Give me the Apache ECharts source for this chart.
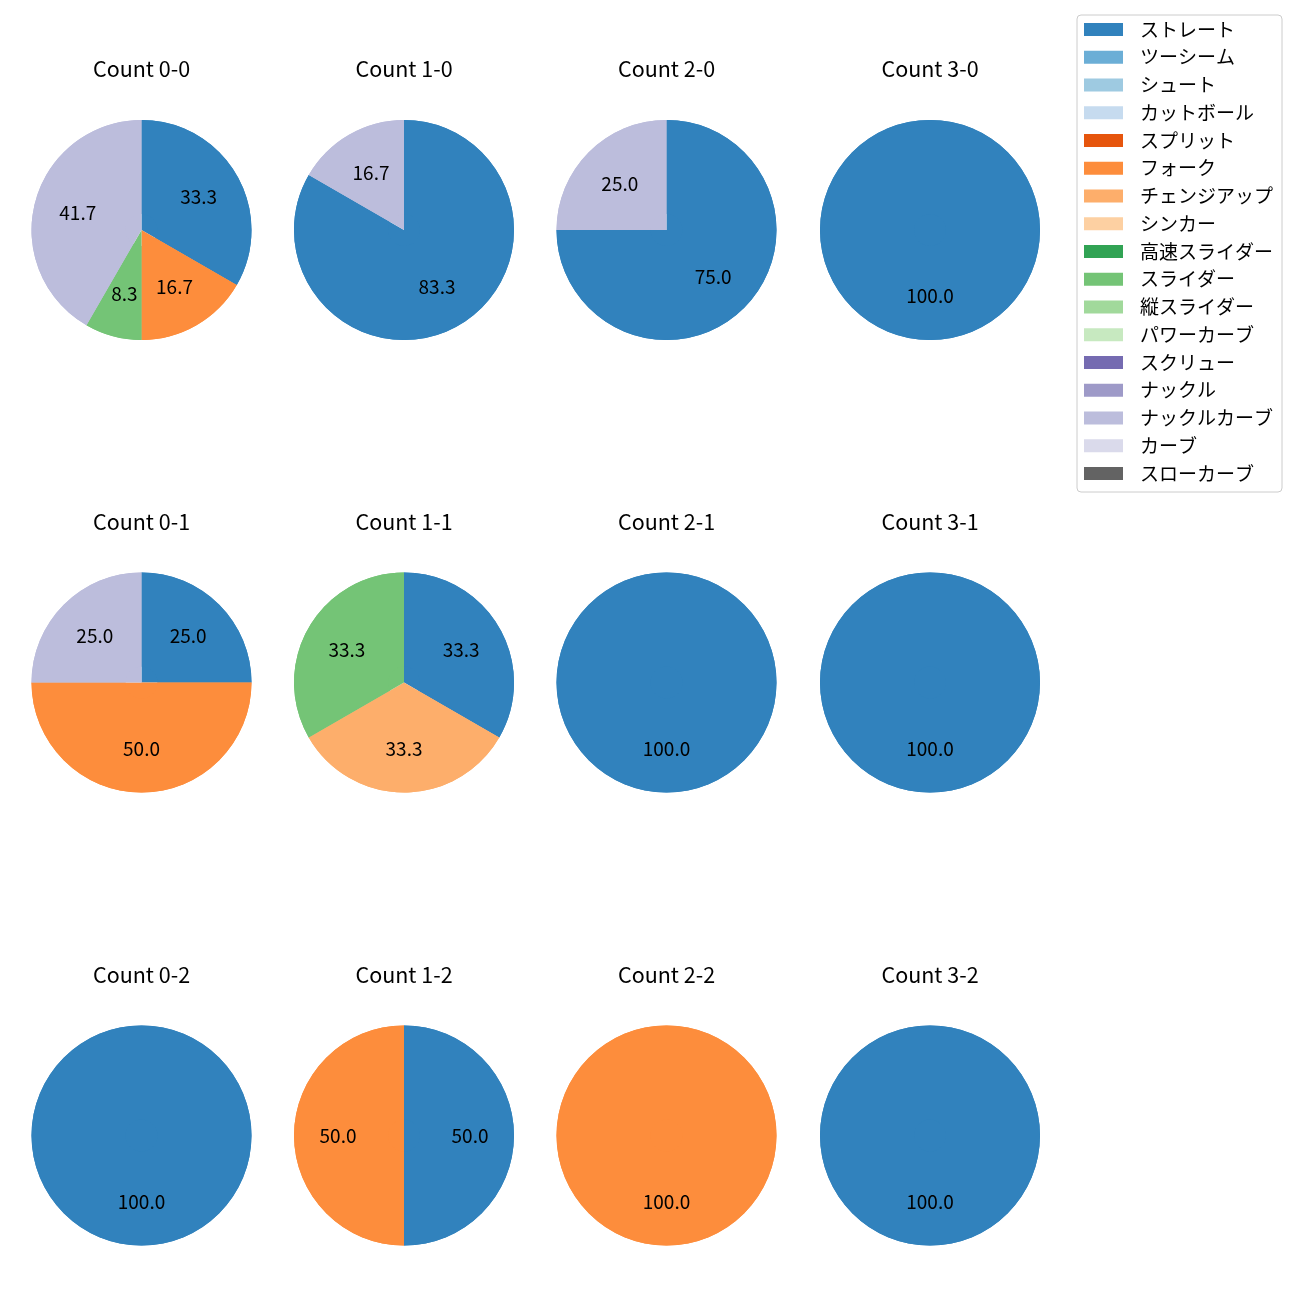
<!DOCTYPE html>
<html><head><meta charset="utf-8">
<script src="https://cdn.jsdelivr.net/npm/echarts@6/dist/echarts.min.js"></script>
<style>html,body{margin:0;padding:0;background:#fff}#c{width:1300px;height:1300px}</style>
</head><body><div id="c"></div>
<script>
const categories = ['ストレート','ツーシーム','シュート','カットボール','スプリット','フォーク','チェンジアップ','シンカー','高速スライダー','スライダー','縦スライダー','パワーカーブ','スクリュー','ナックル','ナックルカーブ','カーブ','スローカーブ'];
const colors = ['#3182bd','#6baed6','#9ecae1','#c6dbef','#e6550d','#fd8d3c','#fdae6b','#fdd0a2','#31a354','#74c476','#a1d99b','#c7e9c0','#756bb1','#9e9ac8','#bcbddc','#dadaeb','#636363'];
const countTitles = ['Count 0-0','Count 1-0','Count 2-0','Count 3-0','Count 0-1','Count 1-1','Count 2-1','Count 3-1','Count 0-2','Count 1-2','Count 2-2','Count 3-2'];
// pitch counts per count, in category order
const c00 = [4,0,0,0,0,2,0,0,0,1,0,0,0,0,5,0,0];
const c10 = [5,0,0,0,0,0,0,0,0,0,0,0,0,0,1,0,0];
const c20 = [3,0,0,0,0,0,0,0,0,0,0,0,0,0,1,0,0];
const c30 = [1,0,0,0,0,0,0,0,0,0,0,0,0,0,0,0,0];
const c01 = [1,0,0,0,0,2,0,0,0,0,0,0,0,0,1,0,0];
const c11 = [1,0,0,0,0,0,1,0,0,1,0,0,0,0,0,0,0];
const c21 = [1,0,0,0,0,0,0,0,0,0,0,0,0,0,0,0,0];
const c31 = [1,0,0,0,0,0,0,0,0,0,0,0,0,0,0,0,0];
const c02 = [1,0,0,0,0,0,0,0,0,0,0,0,0,0,0,0,0];
const c12 = [1,0,0,0,0,1,0,0,0,0,0,0,0,0,0,0,0];
const c22 = [0,0,0,0,0,1,0,0,0,0,0,0,0,0,0,0,0];
const c32 = [1,0,0,0,0,0,0,0,0,0,0,0,0,0,0,0,0];
const allCounts = [c00,c10,c20,c30,c01,c11,c21,c31,c02,c12,c22,c32];

const colX = [141.5, 404, 666.5, 930];
const rowY = [230, 682.5, 1135.5];
const R = 110;
const FONT = '"Noto Sans CJK JP","Noto Sans",sans-serif';

const series = [];
const graphics = [];
allCounts.forEach((vals, i) => {
  const cx = colX[i % 4], cy = rowY[Math.floor(i / 4)];
  const total = vals.reduce((a, b) => a + b, 0);
  const data = categories.map((n, k) => ({name: n, value: vals[k], itemStyle: {color: colors[k]}}));
  series.push({
    type: 'pie', center: [cx, cy], radius: [0, R], startAngle: 90, clockwise: true,
    data: data, label: {show: false}, labelLine: {show: false}, silent: true, animation: false
  });
  series.push({
    type: 'pie', center: [cx, cy], radius: [16, R], startAngle: 90, clockwise: true,
    data: data, silent: true, animation: false, labelLine: {show: false},
    label: {show: true, position: 'inside', color: '#000', fontSize: 19, fontFamily: FONT,
      formatter: p => p.value > 0 ? (p.value / total * 100).toFixed(1) : ''}
  });
  graphics.push({type: 'text', x: cx, y: cy - 161, silent: true,
    style: {text: countTitles[i], fill: '#000', font: '21.5px ' + FONT, textAlign: 'center', textVerticalAlign: 'middle'}});
});

const chart = echarts.init(document.getElementById('c'), null, {renderer: 'canvas'});
chart.setOption({
  animation: false,
  graphic: graphics,
  legend: {
    data: categories, orient: 'vertical', left: 1077, top: 15,
    icon: 'rect', itemWidth: 39, itemHeight: 13, itemGap: 8.75,
    padding: [5, 9, 9, 7], borderColor: '#cccccc', borderWidth: 1, borderRadius: 4,
    backgroundColor: '#fff',
    textStyle: {fontSize: 19, color: '#000', fontFamily: FONT, padding: [0, 0, 0, 12]},
    selectedMode: false
  },
  series: series
});
</script></body></html>
